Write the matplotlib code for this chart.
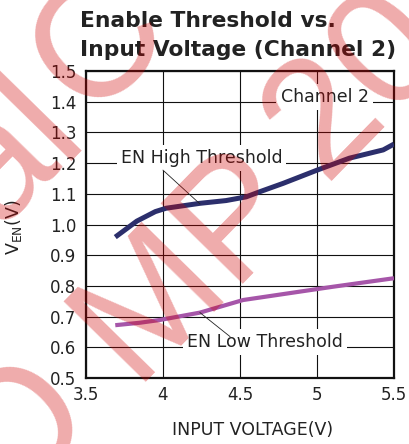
import matplotlib
matplotlib.use("Agg")
import matplotlib.pyplot as plt

plt.rcParams['font.family'] = ['DejaVu Sans']
plt.rcParams['mathtext.fontset'] = 'dejavusans'

# EN high threshold vs input voltage
vin_high = [3.69, 3.83, 3.95, 4.02, 4.24, 4.41, 4.54, 4.63, 4.78, 5.0, 5.21, 5.43, 5.5]
en_high = [0.959, 1.011, 1.042, 1.053, 1.069, 1.078, 1.09, 1.107, 1.134, 1.177, 1.216, 1.243, 1.262]

# EN low threshold vs input voltage
vin_low = [3.69, 3.85, 3.98, 4.24, 4.52, 5.1, 5.5]
en_low = [0.672, 0.68, 0.689, 0.713, 0.754, 0.797, 0.825]

x_ticks = [3.5, 4, 4.5, 5, 5.5]
x_labels = ['3.5', '4', '4.5', '5', '5.5']
y_ticks = [0.5, 0.6, 0.7, 0.8, 0.9, 1.0, 1.1, 1.2, 1.3, 1.4, 1.5]
y_labels = ['%.1f' % v for v in y_ticks]

W, H = 409, 444
fig = plt.figure(figsize=(W / 100, H / 100), dpi=100)
ax = fig.add_axes([86 / W, 1 - 378 / H, 308 / W, 307 / H])

ax.plot(vin_high, en_high, color='#2c2f6c', lw=3.6, solid_capstyle='butt', zorder=4)
ax.plot(vin_low, en_low, color='#a656a9', lw=3.0, solid_capstyle='butt', zorder=4)

ax.set_xlim(3.5, 5.5)
ax.set_ylim(0.5, 1.5)
ax.set_xticks(x_ticks)
ax.set_xticklabels(x_labels)
ax.set_yticks(y_ticks)
ax.set_yticklabels(y_labels)
ax.tick_params(length=0, labelsize=12, colors='#222222')
ax.tick_params(axis='y', pad=7)
ax.tick_params(axis='x', pad=6)
ax.grid(True, color='#111111', lw=0.8)
ax.set_axisbelow(True)
for s in ax.spines.values():
    s.set_linewidth(1.6)
    s.set_color('#111111')

ax.set_xlabel('INPUT VOLTAGE(V)', fontsize=12.5, color='#222222')
ax.xaxis.set_label_coords(0.542, -0.14)
ax.set_ylabel(r'V$_{\mathregular{EN}}$(V)', fontsize=12.5, color='#222222')
ax.yaxis.set_label_coords(-0.2, 0.49)

box = dict(facecolor='white', edgecolor='none', pad=3)
ax.text(5.049, 1.4, 'Channel 2', fontsize=12.5, ha='center', va='baseline',
        color='#222222', bbox=box, zorder=3)
ax.text(4.25, 1.2, 'EN High Threshold', fontsize=12.5, ha='center', va='baseline',
        color='#222222', bbox=box, zorder=3)
ax.text(4.66, 0.6, 'EN Low Threshold', fontsize=12.5, ha='center', va='baseline',
        color='#222222', bbox=box, zorder=3)
ax.plot([4.0, 4.24], [1.177, 1.067], color='#222222', lw=0.6, zorder=5)
ax.plot([4.24, 4.435], [0.713, 0.635], color='#222222', lw=0.6, zorder=5)

fig.text(80 / W, 1 - 27 / H, 'Enable Threshold vs.', fontsize=15.7, fontweight='bold',
         color='#222222', va='baseline')
fig.text(80 / W, 1 - 56 / H, 'Input Voltage (Channel 2)', fontsize=15.7, fontweight='bold',
         color='#222222', va='baseline')

# watermark, one glyph at a time (glyph centre in pixels)
wm = [('O', 20, 432), ('M', 150, 302), ('P', 237, 214), ('2', 325, 118), ('0', 390, 52),
      ('a', -2, 164), ('l', 43, 118), ('C', 100, 45)]
for ch, px, py in wm:
    fig.text(px / W, 1 - py / H, ch, fontsize=120, color='#d00000', alpha=0.33,
             family='Liberation Sans', rotation=45.6, rotation_mode='anchor',
             ha='center', va='center', zorder=100)

fig.savefig('out.png', dpi=100)
